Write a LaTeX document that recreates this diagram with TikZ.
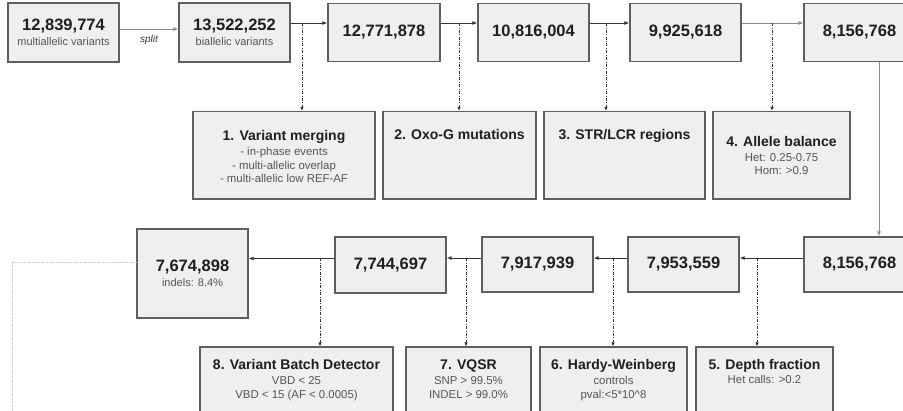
\documentclass[tikz,border=0pt]{standalone}
\usepackage{fontspec}
\setmainfont{Liberation Sans}
\usepackage{xcolor}
\usepackage{tikz}
\usetikzlibrary{arrows.meta}
\usetikzlibrary{positioning}

\definecolor{boxfill}{HTML}{EFEFEF}
\definecolor{boxline}{HTML}{5F5F5F}
\definecolor{numtext}{HTML}{1F1F1F}
\definecolor{subgray}{HTML}{555555}
\definecolor{flowdark}{HTML}{333333}
\definecolor{lightline}{HTML}{8A8A8A}
\definecolor{dotgray}{HTML}{C8C8C8}

\newcommand{\boxnum}{\fontsize{16.5}{18}\selectfont\bfseries\color{numtext}}
\newcommand{\boxsub}{\fontsize{11}{15}\selectfont\color{subgray}}
\newcommand{\filttitle}{\fontsize{14}{15}\selectfont\bfseries\color{numtext}}

\tikzset{
    numbox/.style={draw=boxline, fill=boxfill, line width=1.2pt, inner sep=0pt,
        minimum width=111pt, minimum height=58pt, align=center,
        font=\fontsize{11}{15}\selectfont},
    filtbox/.style={draw=boxline, fill=boxfill, line width=1.2pt, inner sep=0pt,
        minimum height=87.5pt},
    filttext/.style={align=center, inner sep=0pt, anchor=north, text=subgray,
        font=\fontsize{11.4}{13.6}\selectfont},
    flow/.style={draw=flowdark, line width=1pt, -{Latex[length=5pt,width=4pt]}},
    flowlight/.style={flow, draw=lightline},
    tap/.style={draw=flowdark, line width=0.8pt, -{Latex[length=4pt,width=3.5pt]},
        dash pattern=on 3pt off 1.5pt on 0.8pt off 1.5pt},
}

\begin{document}
\begin{tikzpicture}[x=1pt, y=-1pt]
        \clip (0,0) rectangle (903,410);

        % Riga superiore
        \node[numbox, minimum height=59pt] (A) at (63.5,32.5) {{\boxnum 12,839,774}\\{\boxsub multiallelic variants}};
        \node[numbox, minimum height=59pt] (B) at (234.5,32.5) {{\boxnum 13,522,252}\\{\boxsub biallelic variants}};
        \node[numbox, minimum width=112pt] (C) at (384,32.5) {\boxnum 12,771,878};
        \node[numbox] (D) at (533.5,32.5) {\boxnum 10,816,004};
        \node[numbox] (E) at (685.5,32.5) {\boxnum 9,925,618};
        \node[numbox] (F) at (859.5,32.5) {\boxnum 8,156,768};

        \draw[flowlight] ([yshift=3.5pt]A.east) -- node[below=2pt, font=\fontsize{10}{12}\selectfont\itshape, text=flowdark] (split) {split} ([yshift=3.5pt]B.west);
        \draw[flow] ([yshift=9.5pt]B.east) -- ([yshift=9.5pt]C.west);
        \draw[flow] ([yshift=9.5pt]C.east) -- ([yshift=9.5pt]D.west);
        \draw[flow] ([yshift=9.5pt]D.east) -- ([yshift=9.5pt]E.west);
        \draw[flowlight] ([yshift=9.5pt]E.east) -- ([yshift=9.5pt]F.west);

        % Filtri 1-4
        \node[filtbox, minimum width=182pt] (f1) at (284,155.25) {};
        \node[filtbox, minimum width=153pt] (f2) at (459.5,155.25) {};
        \node[filtbox, minimum width=161pt] (f3) at (624.5,155.25) {};
        \node[filtbox, minimum width=137pt] (f4) at (781.5,155.25) {};
        \node[filttext, below=19.3pt of f1.north] (f1t) {{\filttitle 1. Variant merging}\\[1.5pt]- in-phase events\\- multi-allelic overlap\\- multi-allelic low REF-AF};
        \node[filttext, below=18.5pt of f2.north] (f2t) {{\filttitle 2. Oxo-G mutations}};
        \node[filttext, below=18.5pt of f3.north] (f3t) {{\filttitle 3. STR/LCR regions}};
        \node[filttext, below=25.5pt of f4.north] (f4t) {{\filttitle 4. Allele balance}\\[1pt]Het: 0.25-0.75\\Hom: >0.9};

        \coordinate (t1) at (302,23);
        \coordinate (t2) at (459,23);
        \coordinate (t3) at (606,23);
        \coordinate (t4) at (772,23);
        \draw[tap] (t1) -- (t1 |- f1.north);
        \draw[tap] (t2) -- (t2 |- f2.north);
        \draw[tap] (t3) -- (t3 |- f3.north);
        \draw[tap] (t4) -- (t4 |- f4.north);

        % Riga inferiore
        \node[numbox, minimum height=55pt] (F2) at (859.5,264.5) {\boxnum 8,156,768};
        \node[numbox, minimum height=55pt] (G) at (683.5,264.5) {\boxnum 7,953,559};
        \node[numbox, minimum height=55pt] (H) at (537.5,264.5) {\boxnum 7,917,939};
        \node[numbox, minimum height=56pt] (I) at (390.5,265) {\boxnum 7,744,697};
        \node[numbox, minimum height=89pt] (J) at (192.5,273.5) {{\boxnum 7,674,898}\\{\boxsub indels: 8.4\%}};

        \draw[flowlight] ([xshift=19.5pt]F.south) -- ([xshift=19.5pt]F2.north);
        \draw[flow] ([yshift=6.5pt]F2.west) -- ([yshift=6.5pt]G.east);
        \draw[flow] ([yshift=6.5pt]G.west) -- ([yshift=6.5pt]H.east);
        \draw[flow] ([yshift=6.5pt]H.west) -- ([yshift=6.5pt]H.west -| I.east);
        \draw[flow] ([yshift=6.5pt]I.west) -- ([yshift=6.5pt]I.west -| J.east);

        % Filtri 5-8
        \node[filtbox, minimum width=137pt] (f5) at (764.5,390.75) {};
        \node[filtbox, minimum width=147pt] (f6) at (613.5,390.75) {};
        \node[filtbox, minimum width=125pt] (f7) at (468.5,390.75) {};
        \node[filtbox, minimum width=193pt] (f8) at (296.5,390.75) {};
        \node[filttext, below=12.5pt of f5.north] (f5t) {{\filttitle 5. Depth fraction}\\[1pt]Het calls: >0.2};
        \node[filttext, below=13pt of f6.north] (f6t) {{\filttitle 6. Hardy-Weinberg}\\[1.5pt]controls\\pval:<5*10\^{}8};
        \node[filttext, below=13pt of f7.north] (f7t) {{\filttitle 7. VQSR}\\[1.5pt]SNP > 99.5\%\\INDEL > 99.0\%};
        \node[filttext, below=13pt of f8.north] (f8t) {{\filttitle 8. Variant Batch Detector}\\[1.5pt]VBD < 25\\VBD < 15 (AF < 0.0005)};

        \coordinate (t5) at (757,258);
        \coordinate (t6) at (613,258);
        \coordinate (t7) at (466,258);
        \coordinate (t8) at (320,258);
        \draw[tap] (t5) -- (t5 |- f5.north);
        \draw[tap] (t6) -- (t6 |- f6.north);
        \draw[tap] (t7) -- (t7 |- f7.north);
        \draw[tap] (t8) -- (t8 |- f8.north);

        % Uscita tratteggiata
        \coordinate (out) at (12,420);
        \draw[dotgray, line width=0.7pt, densely dotted] ([yshift=11.5pt]J.west) -| (out);
    \end{tikzpicture}
\end{document}
